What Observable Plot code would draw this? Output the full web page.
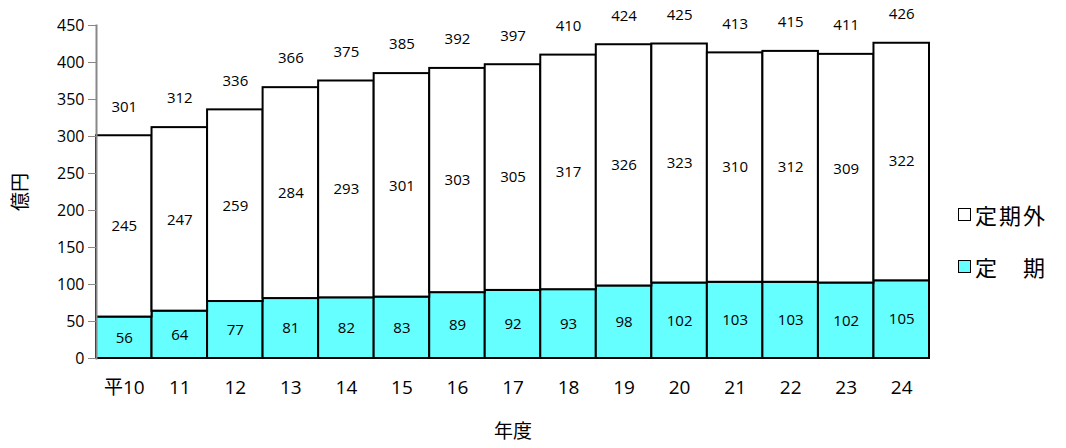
<!DOCTYPE html>
<html><head><meta charset="utf-8">
<script src="https://cdn.jsdelivr.net/npm/d3@7"></script>
<script src="https://cdn.jsdelivr.net/npm/@observablehq/plot@0.6"></script>
<style>
body{margin:0;background:#fff;font-family:"Open Sans","Noto Sans CJK JP",sans-serif;}
#wrap{position:relative;width:1066px;height:448px;}
#legend{position:absolute;left:958px;top:199px;font-family:"Noto Sans CJK JP",sans-serif;font-size:22px;color:#000;letter-spacing:2px;}
.row{display:flex;align-items:center;height:30px;margin-bottom:22px;}
.sw{width:13px;height:13px;border:1.5px solid #000;margin-right:4px;box-sizing:border-box;}
</style></head>
<body><div id="wrap"><div id="chart"></div>
<div id="legend">
<div class="row"><div class="sw" style="background:#fff"></div>定期外</div>
<div class="row"><div class="sw" style="background:#66ffff"></div>定　期</div>
</div></div>
<script>
const years = ["平10","11","12","13","14","15","16","17","18","19","20","21","22","23","24"];
const teiki = [56,64,77,81,82,83,89,92,93,98,102,103,103,102,105];
const teikigai = [245,247,259,284,293,301,303,305,317,326,323,310,312,309,322];
const totals = [301,312,336,366,375,385,392,397,410,424,425,413,415,411,426];
const yTicks = [0,50,100,150,200,250,300,350,400,450];

const rows = years.map((y,i)=>({year:y, t:teiki[i], g:teikigai[i], total:totals[i]}));

const chart = Plot.plot({
  width:1066, height:448,
  marginLeft:96, marginRight:137, marginTop:25, marginBottom:90,
  style:{fontFamily:'"Open Sans","Noto Sans CJK JP",sans-serif', background:"#fff", color:"#000"},
  x:{domain:years, padding:0, round:false},
  y:{domain:[0,450]},
  marks:[
    Plot.barY(rows,{x:"year", y1:0, y2:"t", fill:"#66ffff", stroke:"#000", strokeWidth:2}),
    Plot.barY(rows,{x:"year", y1:"t", y2:"total", fill:"#fff", stroke:"#000", strokeWidth:2}),
    Plot.frame({anchor:"left", stroke:"#888", strokeWidth:2}),
    Plot.text(rows,{x:"year", y:d=>d.t/2, text:"t", fontSize:15}),
    Plot.text(rows,{x:"year", y:d=>d.t+d.g/2, text:"g", fontSize:15}),
    Plot.text(rows,{x:"year", y:"total", text:"total", dy:-29, fontSize:15}),
    Plot.axisY({ticks:yTicks, tickSize:8, tickPadding:4, stroke:"#888", fontSize:16, label:null}),
    Plot.axisX({tickSize:0, tickPadding:22, fontSize:19, label:null}),
    Plot.text(["億円"],{frameAnchor:"left", dx:-76, rotate:-90, textAnchor:"middle", fontSize:19, text:d=>d}),
    Plot.text(["年度"],{frameAnchor:"bottom", dy:79, fontSize:19, text:d=>d})
  ]
});
document.getElementById("chart").appendChild(chart);
</script></body></html>
